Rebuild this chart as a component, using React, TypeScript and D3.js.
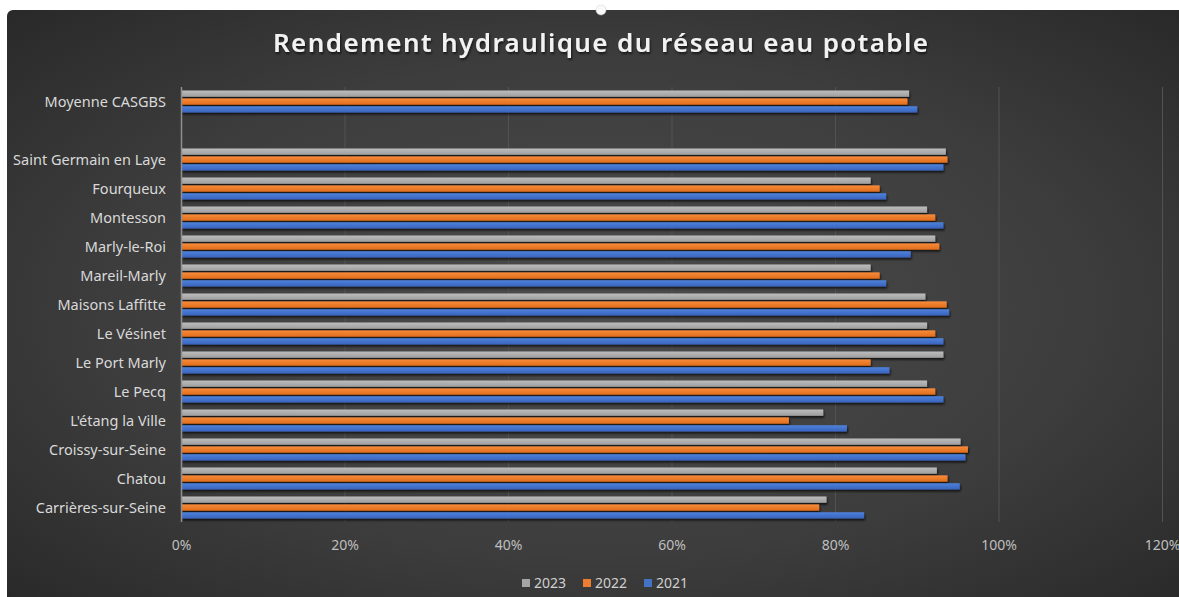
import React from "react";
import * as d3 from "d3";

const categories = [
  "Moyenne CASGBS",
  "",
  "Saint Germain en Laye",
  "Fourqueux",
  "Montesson",
  "Marly-le-Roi",
  "Mareil-Marly",
  "Maisons Laffitte",
  "Le Vésinet",
  "Le Port Marly",
  "Le Pecq",
  "L'étang la Ville",
  "Croissy-sur-Seine",
  "Chatou",
  "Carrières-sur-Seine",
];
const series = ["2023", "2022", "2021"];
const values2023 = [0.89, null, 0.935, 0.843, 0.912, 0.922, 0.843, 0.91, 0.912, 0.932, 0.912, 0.785, 0.953, 0.924, 0.789];
const values2022 = [0.888, null, 0.937, 0.854, 0.922, 0.927, 0.854, 0.936, 0.922, 0.843, 0.922, 0.743, 0.962, 0.937, 0.78];
const values2021 = [0.9, null, 0.932, 0.862, 0.932, 0.892, 0.862, 0.939, 0.932, 0.866, 0.932, 0.814, 0.959, 0.952, 0.835];
const xTicks = [0, 0.2, 0.4, 0.6, 0.8, 1, 1.2];
const title = "Rendement hydraulique du réseau eau potable";

const seriesValues: Record<string, (number | null)[]> = {
  "2023": values2023,
  "2022": values2022,
  "2021": values2021,
};
const colors: Record<string, [string, string]> = {
  "2023": ["#bdbdbd", "#9e9e9e"],
  "2022": ["#f88b3a", "#e06e1c"],
  "2021": ["#4d82dc", "#3a63bb"],
};
const legendColors: Record<string, string> = {
  "2023": "#a5a5a5",
  "2022": "#ed7d31",
  "2021": "#4472c4",
};

const W = 1179;
const H = 597;
const font = "'Noto Sans', 'Open Sans', sans-serif";

export default function App() {
  const x = d3.scaleLinear().domain([0, 1.2]).range([181.5, 1162.5]);
  const y = d3
    .scaleBand<string>()
    .domain(categories)
    .range([87, 522])
    .paddingInner(0.24)
    .paddingOuter(0.12);
  const inner = d3
    .scaleBand<string>()
    .domain(series)
    .range([0, y.bandwidth()])
    .paddingInner(0.2);
  const fmt = d3.format(".0%");

  return (
    <div style={{ position: "fixed", left: 0, top: 0 }}>
      <svg width={W} height={H} style={{ display: "block", background: "#fff" }}>
        <defs>
          <radialGradient id="bg" cx="0.5" cy="0.5" r="0.75">
            <stop offset="0" stopColor="#4c4c4c" />
            <stop offset="0.55" stopColor="#3d3d3d" />
            <stop offset="1" stopColor="#262626" />
          </radialGradient>
          {series.map((s) => (
            <linearGradient key={s} id={`g${s}`} x1="0" y1="0" x2="0" y2="1">
              <stop offset="0" stopColor={colors[s][0]} />
              <stop offset="1" stopColor={colors[s][1]} />
            </linearGradient>
          ))}
          <filter id="shadow" x="-5%" y="-50%" width="110%" height="250%">
            <feDropShadow dx="1" dy="2" stdDeviation="1" floodColor="#000" floodOpacity="0.7" />
          </filter>
          <filter id="tshadow" x="-5%" y="-30%" width="110%" height="160%">
            <feDropShadow dx="1" dy="2" stdDeviation="1.2" floodColor="#000" floodOpacity="0.6" />
          </filter>
        </defs>

        <rect x={7} y={10} width={W} height={H} rx={6} fill="url(#bg)" />

        <text
          x={273}
          y={52}
          textLength={655}
          lengthAdjust="spacing"
          fill="#f2f2f2"
          fontFamily={font}
          fontWeight={600}
          fontSize={26}
          filter="url(#tshadow)"
        >
          {title}
        </text>

        {xTicks.slice(1).map((t) => (
          <line key={t} x1={x(t)} x2={x(t)} y1={87} y2={522} stroke="#525252" strokeWidth={1} />
        ))}

        {categories.map((c, i) =>
          series.map((s) => {
            const v = seriesValues[s][i];
            if (v == null) return null;
            return (
              <rect
                key={`${c}-${s}`}
                x={x(0)}
                y={(y(c) ?? 0) + (inner(s) ?? 0)}
                width={x(v) - x(0)}
                height={inner.bandwidth()}
                fill={`url(#g${s})`}
                filter="url(#shadow)"
              />
            );
          })
        )}

        <line x1={x(0)} x2={x(0)} y1={87} y2={522} stroke="#8f8f8f" strokeWidth={1.5} />

        {categories.map((c) => (
          <text
            key={`l-${c}`}
            x={166}
            y={(y(c) ?? 0) + y.bandwidth() / 2}
            dy="0.35em"
            textAnchor="end"
            fill="#d9d9d9"
            fontFamily={font}
            fontSize={14.5}
          >
            {c}
          </text>
        ))}

        {xTicks.map((t) => (
          <text
            key={`t-${t}`}
            x={x(t)}
            y={550}
            textAnchor="middle"
            fill="#bfbfbf"
            fontFamily={font}
            fontSize={14}
          >
            {fmt(t)}
          </text>
        ))}

        {series.map((s, i) => {
          const lx = 522 + i * 61;
          return (
            <g key={`lg-${s}`}>
              <rect x={lx} y={579} width={8} height={8} fill={legendColors[s]} />
              <text x={lx + 12} y={588} fill="#d0d0d0" fontFamily={font} fontSize={14}>
                {s}
              </text>
            </g>
          );
        })}

        <circle cx={601} cy={10} r={5} fill="#fafafa" stroke="#cfcfcf" strokeWidth={0.5} />
      </svg>
    </div>
  );
}
